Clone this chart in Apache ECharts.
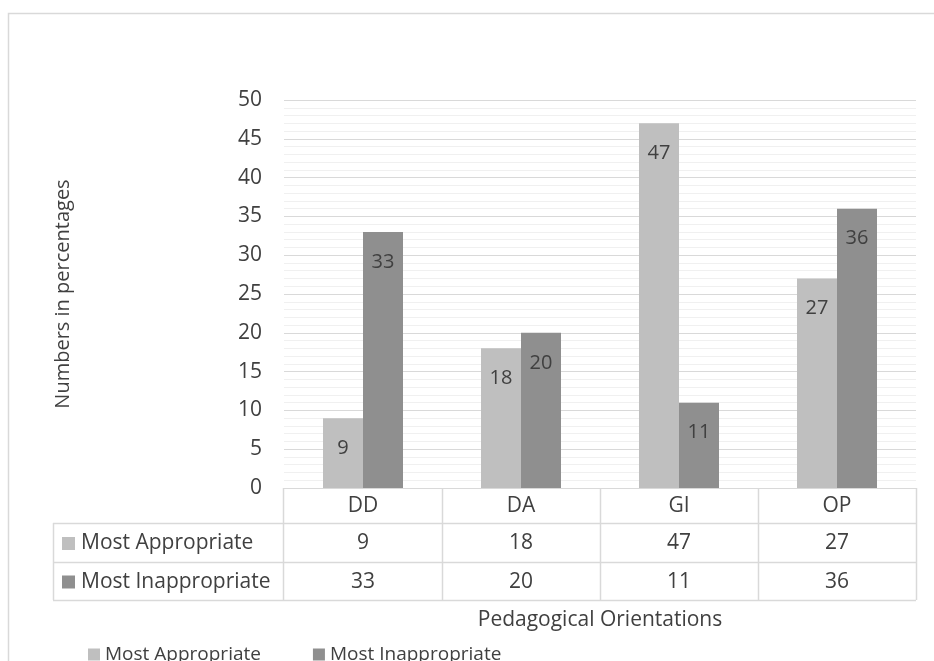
<!DOCTYPE html>
<html>
<head>
<meta charset="utf-8">
<script src="https://cdn.jsdelivr.net/npm/echarts@6/dist/echarts.min.js"></script>
<style>
  html, body { margin: 0; padding: 0; background: #fff; }
  #chart { width: 934px; height: 661px; }
</style>
</head>
<body>
<div id="chart"></div>
<script>
const categories = ['DD', 'DA', 'GI', 'OP'];
const seriesNames = ['Most Appropriate', 'Most Inappropriate'];
const mostAppropriate = [9, 18, 47, 27];
const mostInappropriate = [33, 20, 11, 36];
const seriesValues = [mostAppropriate, mostInappropriate];
const seriesColors = ['#bfbfbf', '#8f8f8f'];

const FONT = '"Open Sans", sans-serif';
const TXT = '#404040';
const LINE = '#d9d9d9';

const chartDom = document.getElementById('chart');
const myChart = echarts.init(chartDom, null, { renderer: 'canvas' });

// table rows sit below the plot as extra category axes
const tableAxis = (values, offset) => ({
    type: 'category',
    data: categories,
    position: 'bottom',
    offset: offset,
    axisLine: { show: false },
    axisTick: { show: false },
    axisLabel: {
        margin: 8,
        fontFamily: FONT, fontSize: 21, color: TXT,
        formatter: (v, i) => values ? String(values[i]) : v
    }
});

const option = {
    animation: false,
    grid: { left: 284, right: 18, top: 100, bottom: 173 },
    xAxis: [
        Object.assign(tableAxis(null, 0), {
            axisLine: { show: true, lineStyle: { color: LINE } }
        }),
        tableAxis(mostAppropriate, 37),
        tableAxis(mostInappropriate, 76)
    ],
    yAxis: {
        type: 'value',
        min: 0,
        max: 50,
        interval: 5,
        name: 'Numbers in percentages',
        nameLocation: 'middle',
        nameRotate: 90,
        nameGap: 211,
        nameTextStyle: { fontFamily: FONT, fontSize: 20, color: TXT },
        axisLine: { show: false },
        axisTick: { show: false },
        axisLabel: { margin: 22, fontFamily: FONT, fontSize: 21, color: TXT },
        splitLine: { lineStyle: { color: LINE, width: 1 } },
        minorTick: { show: false, splitNumber: 5 },
        minorSplitLine: { show: true, lineStyle: { color: '#f0f0f0', width: 1 } }
    },
    legend: {
        data: seriesNames,
        left: 83,
        top: 640,
        icon: 'rect',
        itemWidth: 12,
        itemHeight: 12,
        itemGap: 52,
        textStyle: { fontFamily: FONT, fontSize: 19, color: TXT }
    },
    series: seriesNames.map((name, s) => ({
        name: name,
        type: 'bar',
        data: seriesValues[s],
        barWidth: 40,
        barGap: '0%',
        itemStyle: { color: seriesColors[s] },
        label: {
            show: true,
            position: 'insideTop',
            distance: 20,
            fontFamily: FONT, fontSize: 20, color: TXT
        }
    }))
};

myChart.setOption(option);

// table grid lines, row keys, axis title and outer frame
const top0 = 488, rows = [523, 562, 600];
const tableLeft = 53, labelRight = 283;
const centers = categories.map(c => myChart.convertToPixel({ xAxisIndex: 0 }, c));
const band = centers.length > 1 ? centers[1] - centers[0] : 158;
const plotRight = centers[centers.length - 1] + band / 2;
const elements = [];
const hline = (x1, x2, y) => elements.push({
    type: 'line', shape: { x1: x1, y1: y + 0.5, x2: x2, y2: y + 0.5 },
    style: { stroke: LINE, lineWidth: 1.5 }, silent: true
});
const vline = (x, y1, y2) => elements.push({
    type: 'line', shape: { x1: x + 0.5, y1: y1, x2: x + 0.5, y2: y2 },
    style: { stroke: LINE, lineWidth: 1.5 }, silent: true
});
rows.forEach(y => hline(tableLeft, plotRight, y));
vline(tableLeft, rows[0], rows[2]);
vline(labelRight, top0, rows[2]);
centers.forEach(cx => vline(cx + band / 2, top0, rows[2]));

seriesNames.forEach((name, s) => {
    const cy = (rows[s] + rows[s + 1]) / 2 + 1;
    elements.push({
        type: 'rect', shape: { x: 62, y: cy - 6.5, width: 13, height: 13 },
        style: { fill: seriesColors[s] }, silent: true
    });
    elements.push({
        type: 'text', x: 81, y: cy,
        style: { text: name, font: '21px ' + FONT, fill: TXT, verticalAlign: 'middle', textAlign: 'left' },
        silent: true
    });
});

elements.push({
    type: 'text', x: (centers[0] - band / 2 + plotRight) / 2, y: 620,
    style: { text: 'Pedagogical Orientations', font: '21px ' + FONT, fill: TXT, textAlign: 'center', verticalAlign: 'middle' },
    silent: true
});
elements.push({
    type: 'rect', shape: { x: 8.5, y: 13.5, width: 1000, height: 1000 },
    style: { fill: 'none', stroke: LINE, lineWidth: 1.5 }, silent: true
});

myChart.setOption({ graphic: { elements: elements } });
window.addEventListener('resize', myChart.resize);
</script>
</body>
</html>
